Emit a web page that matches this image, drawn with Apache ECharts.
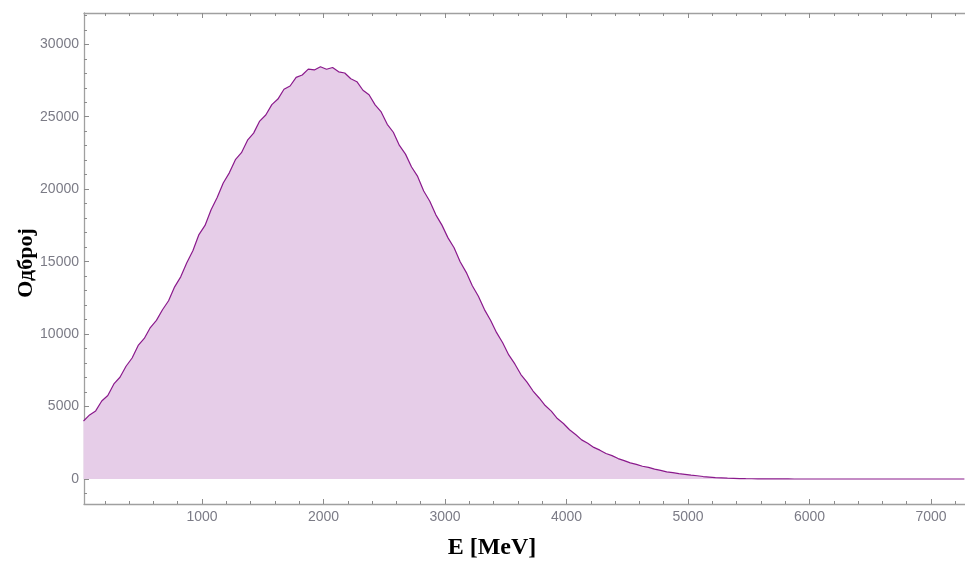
<!DOCTYPE html>
<html>
<head>
<meta charset="utf-8">
<script src="https://cdn.jsdelivr.net/npm/echarts@6/dist/echarts.min.js"></script>
<style>html,body{margin:0;padding:0;background:#fff}#c{width:965px;height:561px}</style>
</head>
<body>
<div id="c"></div>
<script>
const energies = [25,75,125,175,225,275,325,375,425,475,525,575,625,675,725,775,825,875,925,975,
1025,1075,1125,1175,1225,1275,1325,1375,1425,1475,1525,1575,1625,1675,1725,1775,1825,1875,1925,1975,
2025,2075,2125,2175,2225,2275,2325,2375,2425,2475,2525,2575,2625,2675,2725,2775,2825,2875,2925,2975,
3025,3075,3125,3175,3225,3275,3325,3375,3425,3475,3525,3575,3625,3675,3725,3775,3825,3875,3925,3975,
4025,4075,4125,4175,4225,4275,4325,4375,4425,4475,4525,4575,4625,4675,4725,4775,4825,4875,4925,4975,
5025,5075,5125,5175,5225,5275,5325,5375,5425,5475,5525,5575,5625,5675,5725,5775,5825,5875,5925,5975,
6025,6075,6125,6175,6225,6275,6325,6375,6425,6475,6525,6575,6625,6675,6725,6775,6825,6875,6925,6975,
7025,7075,7125,7175,7225,7275];
const counts = [4000,4420,4700,5380,5760,6560,7020,7780,8350,9220,9700,10450,10950,11680,12300,13260,13950,14920,15750,16870,
17500,18580,19420,20430,21130,22040,22520,23380,23870,24700,25120,25840,26220,26900,27120,27720,27880,28290,28230,28450,
28280,28400,28100,28020,27620,27420,26830,26520,25820,25330,24480,23930,23020,22420,21530,20880,19880,19170,18230,17520,
16640,15960,14990,14260,13340,12610,11690,10960,10100,9400,8560,7940,7210,6690,6070,5590,5070,4680,4170,3830,
3400,3070,2700,2470,2180,1990,1760,1610,1410,1270,1110,1010,880,800,680,600,495,435,365,325,
265,225,170,135,100,78,55,42,30,22,16,12,9,6,5,3,2,1,1,1,
1,0,1,0,0,1,0,0,0,0,0,0,0,0,0,0,0,0,0,0,
0,0,0,0,0,0];
const xMajorTicks = [1000,2000,3000,4000,5000,6000,7000];
const xMinorTicks = [200,400,600,800,1200,1400,1600,1800,2200,2400,2600,2800,3200,3400,3600,3800,4200,4400,4600,4800,5200,5400,5600,5800,6200,6400,6600,6800,7200];
const yMajorTicks = [0,5000,10000,15000,20000,25000,30000];
const yMinorTicks = [-1000,1000,2000,3000,4000,6000,7000,8000,9000,11000,12000,13000,14000,16000,17000,18000,19000,21000,22000,23000,24000,26000,27000,28000,29000,31000,32000];
const xTitle = 'E [MeV]';
const yTitle = 'Одброј';

const X_MIN = 29, X_MAX = 7280, Y_MIN = -1726, Y_MAX = 32160;
const frameColor = '#a0a0a0';
const tickColor = '#8c8c8c';
const labelStyle = {color:'#7b7b86', fontFamily:'Liberation Sans, Arial, sans-serif', fontSize:14, formatter:(v)=>String(Math.round(v))};

function xAx(pos, ticks, len, labels, line, showTicks) {
  return {type:'value', position:pos, min:X_MIN, max:X_MAX,
    axisLine:{show:line, onZero:false, lineStyle:{color:frameColor, width:1.3}},
    axisTick:{show:showTicks, inside:true, length:len, customValues:ticks, lineStyle:{color:tickColor, width:1}},
    axisLabel:labels ? Object.assign({show:true, customValues:ticks, margin:6}, labelStyle) : {show:false},
    splitLine:{show:false}};
}
function yAx(pos, ticks, len, labels, line, showTicks) {
  return {type:'value', position:pos, min:Y_MIN, max:Y_MAX,
    axisLine:{show:line, onZero:false, lineStyle:{color:frameColor, width:1.3}},
    axisTick:{show:showTicks, inside:true, length:len, customValues:ticks, lineStyle:{color:tickColor, width:1}},
    axisLabel:labels ? Object.assign({show:true, customValues:ticks, margin:5}, labelStyle) : {show:false},
    splitLine:{show:false}};
}

const data = energies.map((e, i) => [e, counts[i]]);

const chart = echarts.init(document.getElementById('c'), null, {renderer:'canvas'});
chart.setOption({
  animation:false,
  backgroundColor:'#ffffff',
  grid:{left:84, right:0, top:13, bottom:57, containLabel:false},
  xAxis:[
    xAx('bottom', xMajorTicks, 5, true, true, true),
    xAx('bottom', xMinorTicks, 3, false, false, true),
    xAx('top', xMajorTicks, 5, false, true, true),
    xAx('top', xMinorTicks, 3, false, false, true)
  ],
  yAxis:[
    yAx('left', yMajorTicks, 5, true, true, true),
    yAx('left', yMinorTicks, 3, false, false, true)
  ],
  series:[{
    type:'line', xAxisIndex:0, yAxisIndex:0, data:data,
    showSymbol:false, symbol:'none', smooth:false,
    lineStyle:{color:'#8a1a8c', width:1.2},
    areaStyle:{color:'#e6cde8', opacity:1, origin:0},
    clip:true
  }],
  graphic:[
    {type:'text', x:492, y:548, style:{text:xTitle, font:'bold 24px "Liberation Serif", "Times New Roman", serif', fill:'#000', align:'center', verticalAlign:'middle'}},
    {type:'text', x:26, y:263, rotation:Math.PI/2, style:{text:yTitle, font:'bold 22px "Liberation Serif", "Times New Roman", serif', fill:'#000', align:'center', verticalAlign:'middle'}}
  ]
});
</script>
</body>
</html>
